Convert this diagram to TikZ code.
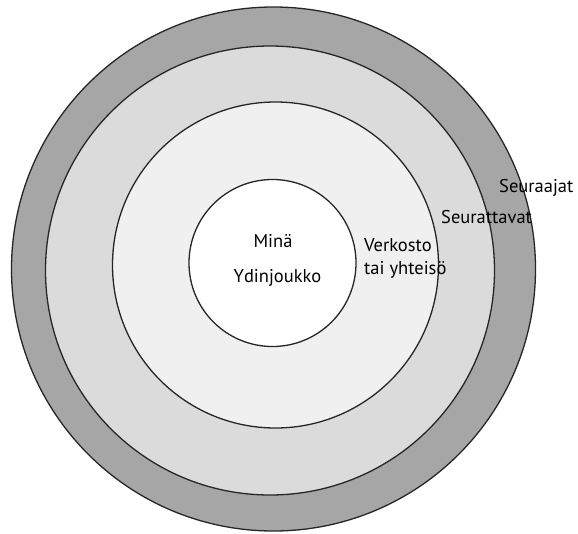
\documentclass[tikz,border=0pt]{standalone}
\usepackage{fontspec}
\setmainfont{PT Sans}
\usetikzlibrary{positioning}

\begin{document}
\begin{tikzpicture}[
    x=1pt, y=-1pt,
    ring/.style={circle, draw=black!85, line width=1.3pt, inner sep=0pt},
    label/.style={inner sep=0pt, font=\fontsize{18.5}{23}\selectfont}
]
\useasboundingbox (0,0) rectangle (578,533);

% Circles
\node[ring, fill=black!35, minimum size=524pt] (followers) at (273.5,269) {};
\node[ring, fill=black!14, minimum size=449pt] (followed) at (270,270.5) {};
\node[ring, fill=black!6, minimum size=326pt] (network) at (275.5,265) {};
\node[ring, fill=white, minimum size=167pt] (core) at (272.5,263) {};

% Labels
\node[label, anchor=base] (me) at (273,247) {Minä};
\node[label, anchor=base] (corename) at (277.5,282) {Ydinjoukko};
\node[label, anchor=west, align=left] (networkname) at (364,258) {Verkosto\\tai yhteisö};
\node[label, anchor=base west] (followedname) at (441,223) {Seurattavat};
\node[label, anchor=base west] (followersname) at (499,192) {Seuraajat};

\end{tikzpicture}
\end{document}
